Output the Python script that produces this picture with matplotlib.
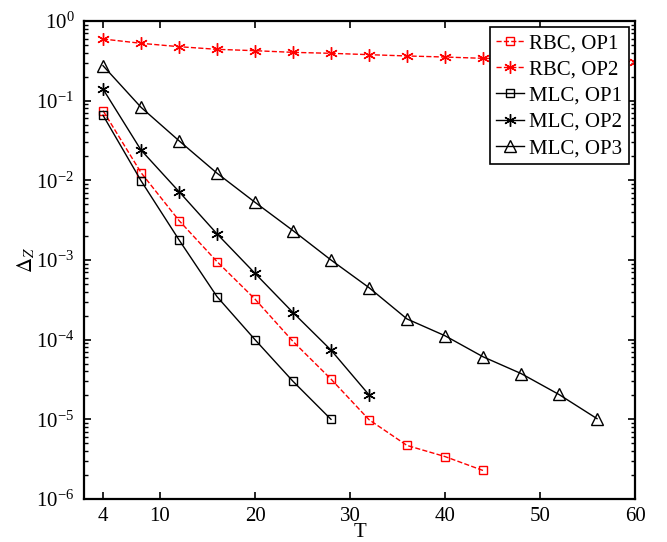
import matplotlib
matplotlib.use("Agg")
import matplotlib.pyplot as plt
from matplotlib.ticker import LogLocator, NullFormatter, FixedLocator

plt.rcParams['font.family'] = ['Liberation Serif', 'DejaVu Serif']
plt.rcParams['mathtext.fontset'] = 'stix'

# Data
T_rbc_op1 = [4, 8, 12, 16, 20, 24, 28, 32, 36, 40, 44]
rbc_op1 = [0.075, 0.0125, 3.13e-3, 9.55e-4, 3.23e-4, 9.5e-5, 3.2e-5, 9.9e-6, 4.7e-6, 3.41e-6, 2.28e-6]

T_rbc_op2 = [4, 8, 12, 16, 20, 24, 28, 32, 36, 40, 44, 48, 52, 56, 60]
rbc_op2 = [0.594, 0.525, 0.476, 0.441, 0.424, 0.404, 0.393, 0.378, 0.364, 0.353, 0.34, 0.33, 0.322, 0.315, 0.309]

T_mlc_op1 = [4, 8, 12, 16, 20, 24, 28]
mlc_op1 = [0.0656, 0.0099, 1.79e-3, 3.47e-4, 1.0e-4, 3.0e-5, 1.0e-5]

T_mlc_op2 = [4, 8, 12, 16, 20, 24, 28, 32]
mlc_op2 = [0.140, 0.024, 7.22e-3, 2.13e-3, 6.8e-4, 2.19e-4, 7.4e-5, 2.03e-5]

T_mlc_op3 = [4, 8, 12, 16, 20, 24, 28, 32, 36, 40, 44, 48, 52, 56]
mlc_op3 = [0.275, 0.0826, 0.0314, 0.0123, 0.0053, 2.34e-3, 1.0e-3, 4.5e-4, 1.82e-4, 1.12e-4, 6.1e-5, 3.76e-5, 2.05e-5, 1.02e-5]

xticks = [4, 10, 20, 30, 40, 50, 60]

fig = plt.figure(figsize=(6.67, 5.42), dpi=100)
ax = fig.add_axes([84/667, 1-499/542, (635-84)/667, (499-21)/542])

red = (1, 0, 0)
asterisk = (6, 2, 0)
ax.plot(T_rbc_op1, rbc_op1, linestyle='--', color=red, lw=1.0, marker='s', ms=6,
        mfc='none', mec=red, mew=1.0, label='RBC, OP1')
ax.plot(T_rbc_op2, rbc_op2, linestyle='--', color=red, lw=1.0, marker=asterisk, ms=9,
        mec=red, mew=1.0, label='RBC, OP2')
ax.plot(T_mlc_op1, mlc_op1, linestyle='-', color='k', lw=1.0, marker='s', ms=6,
        mfc='none', mec='k', mew=1.0, label='MLC, OP1')
ax.plot(T_mlc_op2, mlc_op2, linestyle='-', color='k', lw=1.0, marker=asterisk, ms=9,
        mec='k', mew=1.0, label='MLC, OP2')
ax.plot(T_mlc_op3, mlc_op3, linestyle='-', color='k', lw=1.0, marker='^', ms=8,
        mfc='none', mec='k', mew=1.0, label='MLC, OP3')

ax.set_yscale('log')
ax.set_ylim(1e-6, 1)
ax.set_xlim(2, 60)
ax.xaxis.set_major_locator(FixedLocator(xticks))
ax.set_xticklabels([str(t) for t in xticks])
ax.yaxis.set_major_locator(LogLocator(base=10, numticks=10))
ax.yaxis.set_minor_locator(LogLocator(base=10, subs=range(2, 10), numticks=100))
ax.yaxis.set_minor_formatter(NullFormatter())

ax.tick_params(which='both', direction='in', top=True, right=True, labelsize=15)
ax.tick_params(which='major', length=5, width=1.2)
ax.tick_params(which='minor', length=3, width=1.0)
ax.tick_params(axis='x', which='major', pad=6)
ax.tick_params(axis='y', which='major', pad=7)
for s in ax.spines.values():
    s.set_linewidth(1.6)

ax.set_xlabel('T', fontsize=15)
ax.set_ylabel(r'$\Delta_Z$', fontsize=15)
ax.xaxis.set_label_coords(0.5, -0.05)
ax.yaxis.set_label_coords(-0.085, 0.5)

leg = ax.legend(loc='upper right', fontsize=15, frameon=True, fancybox=False,
                edgecolor='k', framealpha=1, handlelength=1.35, handletextpad=0.25,
                borderpad=0.3, labelspacing=0.32, borderaxespad=0.3)
leg.get_frame().set_linewidth(1.2)

fig.savefig('out.png', dpi=100)
